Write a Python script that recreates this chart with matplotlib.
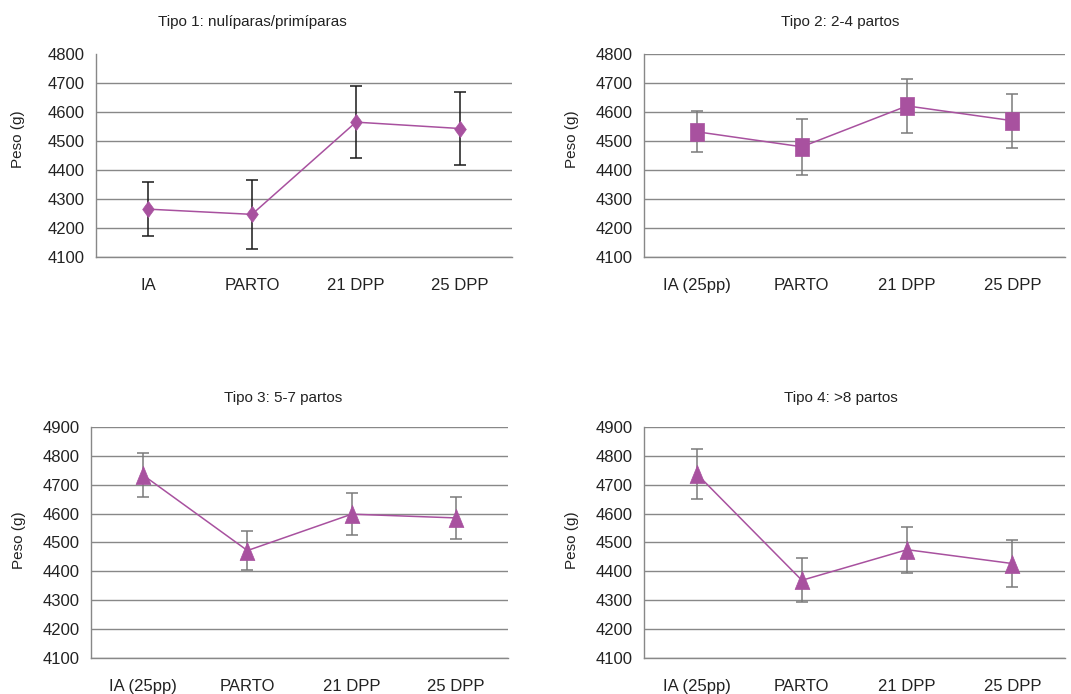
"""
Peso (g) por tipo de parto: media con barras de error.
"""

import numpy as np
import matplotlib
matplotlib.use('Agg')
import matplotlib.pyplot as plt

plt.rcParams['font.family'] = ['Liberation Sans', 'DejaVu Sans']

# data
cats_1 = ['IA', 'PARTO', '21 DPP', '25 DPP']
cats_2 = ['IA (25pp)', 'PARTO', '21 DPP', '25 DPP']

tipo1_mean = [4265, 4247, 4565, 4543]
tipo1_err = [92, 120, 125, 126]

tipo2_mean = [4532, 4480, 4621, 4570]
tipo2_err = [70, 96, 93, 93]

tipo3_mean = [4733, 4472, 4598, 4585]
tipo3_err = [77, 69, 72, 73]

tipo4_mean = [4738, 4369, 4475, 4427]
tipo4_err = [86, 76, 80, 80]

titles = ['Tipo 1: nulíparas/primíparas', 'Tipo 2: 2-4 partos',
          'Tipo 3: 5-7 partos', 'Tipo 4: >8 partos']

purple = '#A8519F'
grid_c = '#888888'

# Excel-like markers, a bit taller than wide
diamond = [(0, 1), (0.73, 0), (0, -1), (-0.73, 0), (0, 1)]
rect = [(-0.78, -1), (0.78, -1), (0.78, 1), (-0.78, 1), (-0.78, -1)]
tri = [(0, 1), (0.82, -1), (-0.82, -1), (0, 1)]

fig = plt.figure(figsize=(10.71, 6.94), dpi=100)

# [left, bottom, width, height] in figure fraction
boxes = [
    [0.0896, 0.6297, 0.3884, 0.2925],
    [0.6013, 0.6297, 0.3931, 0.2925],
    [0.0850, 0.0519, 0.3894, 0.3329],
    [0.6013, 0.0519, 0.3931, 0.3329],
]
panels = [
    (cats_1, tipo1_mean, tipo1_err, diamond, 11.5, (4100, 4800), '#1a1a1a'),
    (cats_2, tipo2_mean, tipo2_err, rect, 13, (4100, 4800), '#7a7a7a'),
    (cats_2, tipo3_mean, tipo3_err, tri, 13, (4100, 4900), '#7a7a7a'),
    (cats_2, tipo4_mean, tipo4_err, tri, 13, (4100, 4900), '#7a7a7a'),
]
# title centres and y-label positions, pixels
title_xy = [(252, 22), (840, 22), (283, 398), (841, 398)]
ylab_xy = [(18, 139), (572, 139), (19, 540), (572, 540)]

W, H = 1071.0, 694.0

for i, (box, p) in enumerate(zip(boxes, panels)):
    cats, mean, err, mk, ms, ylim, ecol = p
    ax = fig.add_axes(box)
    x = np.arange(len(cats))
    ax.errorbar(x, mean, yerr=err, fmt='none', ecolor=ecol, elinewidth=1.1,
                capsize=4.3, capthick=1.1, zorder=2)
    ax.plot(x, mean, '-', color=purple, lw=1.1, zorder=3)
    ax.plot(x, mean, ls='none', marker=mk, color=purple, ms=ms, mec=purple,
            mew=0.5, zorder=4)

    ax.set_xlim(-0.5, len(cats) - 0.5)
    ax.set_ylim(ylim)
    ax.set_yticks(np.arange(ylim[0], ylim[1] + 1, 100))
    ax.set_xticks(x)
    ax.set_xticklabels(cats)
    ax.tick_params(axis='both', length=0, labelsize=12, colors='#222222')
    ax.tick_params(axis='y', pad=8)
    ax.tick_params(axis='x', pad=15)

    ax.grid(axis='y', color=grid_c, lw=1.0)
    ax.set_axisbelow(True)
    if i == 0:
        ax.get_ygridlines()[-1].set_visible(False)
    for s in ['top', 'right']:
        ax.spines[s].set_visible(False)
    for s in ['left', 'bottom']:
        ax.spines[s].set_color(grid_c)
        ax.spines[s].set_linewidth(1.0)

    tx, ty = title_xy[i]
    fig.text(tx / W, 1 - ty / H, titles[i], ha='center', va='center',
             fontsize=11, color='#222222')
    lx, ly = ylab_xy[i]
    fig.text(lx / W, 1 - ly / H, 'Peso (g)', ha='center', va='center',
             rotation=90, fontsize=11, color='#222222')

fig.savefig('out.png', dpi=100)
